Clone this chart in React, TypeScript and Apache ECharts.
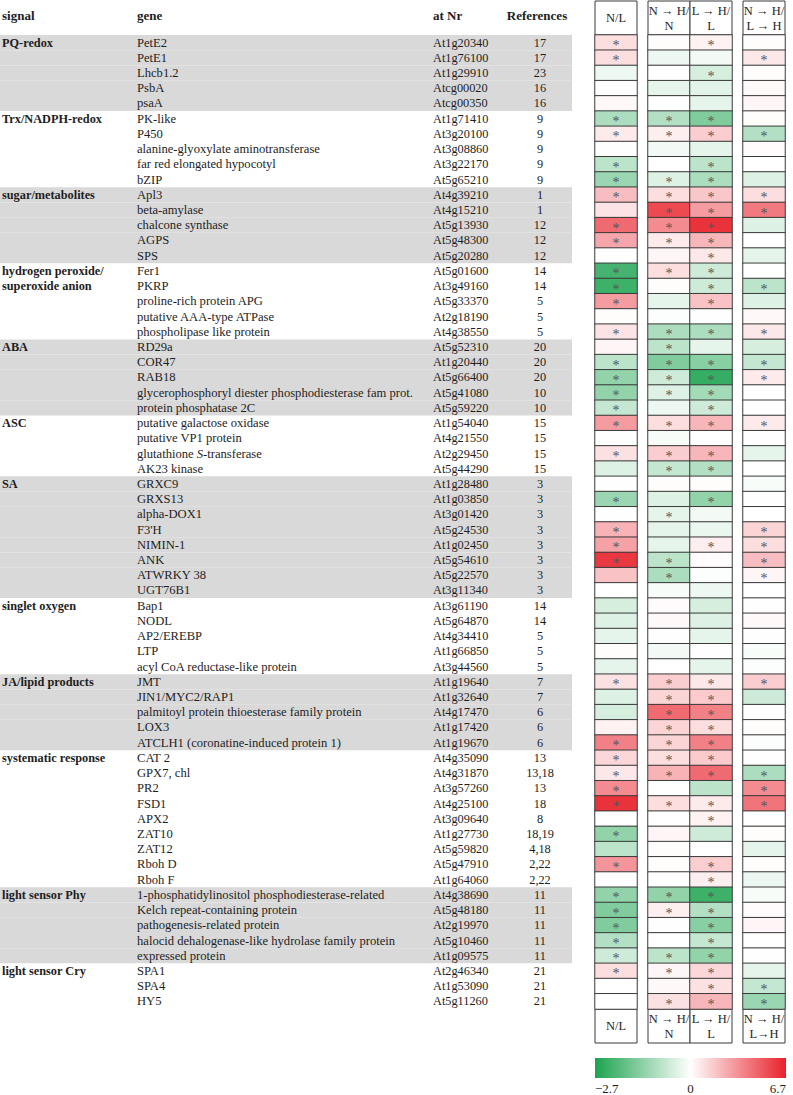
import React, { useEffect, useRef } from 'react';
import * as echarts from 'echarts';

// ---------------- data ----------------
const signalGroups = [
  'PQ-redox',
  'Trx/NADPH-redox',
  'sugar/metabolites',
  'hydrogen peroxide/\nsuperoxide anion',
  'ABA',
  'ASC',
  'SA',
  'singlet oxygen',
  'JA/lipid products',
  'systematic response',
  'light sensor Phy',
  'light sensor Cry',
];
const groupSizes = [5, 5, 5, 5, 5, 4, 8, 5, 5, 9, 5, 3];

const genes = [
  'PetE2', 'PetE1', 'Lhcb1.2', 'PsbA', 'psaA',
  'PK-like', 'P450', 'alanine-glyoxylate aminotransferase', 'far red elongated hypocotyl', 'bZIP',
  'Apl3', 'beta-amylase', 'chalcone synthase', 'AGPS', 'SPS',
  'Fer1', 'PKRP', 'proline-rich protein APG', 'putative AAA-type ATPase', 'phospholipase like protein',
  'RD29a', 'COR47', 'RAB18', 'glycerophosphoryl diester phosphodiesterase fam prot.', 'protein phosphatase 2C',
  'putative galactose oxidase', 'putative VP1 protein', 'glutathione {i|S}-transferase', 'AK23 kinase',
  'GRXC9', 'GRXS13', 'alpha-DOX1', "F3'H", 'NIMIN-1', 'ANK', 'ATWRKY 38', 'UGT76B1',
  'Bap1', 'NODL', 'AP2/EREBP', 'LTP', 'acyl CoA reductase-like protein',
  'JMT', 'JIN1/MYC2/RAP1', 'palmitoyl protein thioesterase family protein', 'LOX3', 'ATCLH1 (coronatine-induced protein 1)',
  'CAT 2', 'GPX7, chl', 'PR2', 'FSD1', 'APX2', 'ZAT10', 'ZAT12', 'Rboh D', 'Rboh F',
  '1-phosphatidylinositol phosphodiesterase-related', 'Kelch repeat-containing protein', 'pathogenesis-related protein',
  'halocid dehalogenase-like hydrolase family protein', 'expressed protein',
  'SPA1', 'SPA4', 'HY5',
];

const atNr = [
  'At1g20340', 'At1g76100', 'At1g29910', 'Atcg00020', 'Atcg00350',
  'At1g71410', 'At3g20100', 'At3g08860', 'At3g22170', 'At5g65210',
  'At4g39210', 'At4g15210', 'At5g13930', 'At5g48300', 'At5g20280',
  'At5g01600', 'At3g49160', 'At5g33370', 'At2g18190', 'At4g38550',
  'At5g52310', 'At1g20440', 'At5g66400', 'At5g41080', 'At5g59220',
  'At1g54040', 'At4g21550', 'At2g29450', 'At5g44290',
  'At1g28480', 'At1g03850', 'At3g01420', 'At5g24530', 'At1g02450', 'At5g54610', 'At5g22570', 'At3g11340',
  'At3g61190', 'At5g64870', 'At4g34410', 'At1g66850', 'At3g44560',
  'At1g19640', 'At1g32640', 'At4g17470', 'At1g17420', 'At1g19670',
  'At4g35090', 'At4g31870', 'At3g57260', 'At4g25100', 'At3g09640', 'At1g27730', 'At5g59820', 'At5g47910', 'At1g64060',
  'At4g38690', 'At5g48180', 'At2g19970', 'At5g10460', 'At1g09575',
  'At2g46340', 'At1g53090', 'At5g11260',
];

const references = [
  '17', '17', '23', '16', '16',
  '9', '9', '9', '9', '9',
  '1', '1', '12', '12', '12',
  '14', '14', '5', '5', '5',
  '20', '20', '20', '10', '10',
  '15', '15', '15', '15',
  '3', '3', '3', '3', '3', '3', '3', '3',
  '14', '14', '5', '5', '5',
  '7', '7', '6', '6', '6',
  '13', '13,18', '13', '18', '8', '18,19', '4,18', '2,22', '2,22',
  '11', '11', '11', '11', '11',
  '21', '21', '21',
];

const valNL = [
  1.0, 1.0, -0.2, 0.05, 0.2,
  -1.0, 0.6, 0.05, -0.8, -1.2,
  2.0, 0.8, 4.5, 2.7, 0.0,
  -2.2, -2.3, 3.0, 0.1, 0.8,
  0.3, -0.8, -1.3, -1.3, -0.7,
  3.0, 0.05, 0.9, -0.4,
  0.05, -1.2, 0.05, 2.3, 2.8, 6.0, 1.8, 0.0,
  -0.5, -0.4, -0.3, 0.1, -0.3,
  0.9, -0.4, -0.5, 0.4, 3.8,
  1.2, 0.7, 3.5, 6.2, 0.0, -1.3, -0.8, 3.2, 0.05,
  -1.3, -1.5, -1.5, -0.9, -0.6,
  1.0, 0.0, 0.0,
];
const valNHN = [
  0.1, -0.2, 0.0, -0.3, 0.0,
  -0.9, 0.5, -0.15, 0.0, -0.4,
  1.0, 5.5, 3.5, 0.6, 0.3,
  1.0, 0.1, -0.3, -0.05, -1.0,
  -0.8, -1.5, -0.6, -0.4, -0.2,
  1.0, -0.1, 1.5, -0.7,
  0.1, -0.4, -0.3, -0.3, -0.3, -0.8, -1.0, -0.1,
  0.15, 0.2, 0.05, -0.15, 0.0,
  1.5, 1.3, 4.5, 1.3, 1.3,
  1.0, 2.3, 0.0, 1.0, 0.0, 0.3, 0.1, 0.1, 0.0,
  -1.3, 0.5, 0.05, 0.0, -0.8,
  0.3, 0.2, 0.9,
];
const valLHL = [
  0.4, -0.15, -0.5, -0.35, -0.3,
  -1.5, 1.5, -0.3, -0.8, -1.0,
  1.7, 3.0, 6.2, 2.2, 0.7,
  -0.6, -0.6, 1.8, 0.05, -1.0,
  -0.3, -1.4, -2.4, -1.1, -0.6,
  2.2, 0.0, 2.2, -0.9,
  0.1, -1.3, -0.15, -0.25, 0.5, 0.15, -0.05, -0.2,
  -0.5, -0.4, -0.3, 0.05, -0.3,
  0.7, 1.6, 3.8, 1.0, 3.8,
  1.6, 4.5, -0.8, 0.6, 0.4, -0.6, 0.0, 1.5, 0.5,
  -2.3, -0.9, -1.4, -0.7, -1.3,
  1.2, 0.9, 2.2,
];
const valNHLH = [
  0.1, 0.7, 0.1, 0.2, 0.3,
  0.1, -0.9, 0.15, 0.0, -0.4,
  1.0, 4.0, -0.4, 0.05, -0.3,
  0.0, -0.8, -0.4, 0.2, 0.7,
  -0.5, -0.7, 0.6, 0.0, 0.0,
  0.6, 0.05, -0.3, 0.0,
  -0.1, 0.05, 0.0, 1.3, 1.0, 2.0, 0.3, 0.0,
  0.05, 0.2, 0.05, -0.1, -0.05,
  1.5, -0.6, 0.05, 0.1, -0.05,
  0.05, -1.0, 3.5, 4.2, 0.0, 0.1, -0.3, 0.1, -0.2,
  -0.1, 0.15, 0.3, 0.0, 0.05,
  -0.3, -0.7, -1.2,
];

// significance flags (1 = asterisk)
const sigNL = [
  1, 1, 0, 0, 0,
  1, 1, 0, 1, 1,
  1, 0, 1, 1, 0,
  1, 1, 1, 0, 1,
  0, 1, 1, 1, 1,
  1, 0, 1, 0,
  0, 1, 0, 1, 1, 1, 0, 0,
  0, 0, 0, 0, 0,
  1, 0, 0, 0, 1,
  1, 1, 1, 1, 0, 1, 0, 1, 0,
  1, 1, 1, 1, 1,
  1, 0, 0,
];
const sigNHN = [
  0, 0, 0, 0, 0,
  1, 1, 0, 0, 1,
  1, 1, 1, 1, 0,
  1, 0, 0, 0, 1,
  1, 1, 1, 1, 0,
  1, 0, 1, 1,
  0, 0, 1, 0, 0, 1, 1, 0,
  0, 0, 0, 0, 0,
  1, 1, 1, 1, 1,
  1, 1, 0, 1, 0, 0, 0, 0, 0,
  1, 1, 0, 0, 1,
  1, 0, 1,
];
const sigLHL = [
  1, 0, 1, 0, 0,
  1, 1, 0, 1, 1,
  1, 1, 1, 1, 1,
  1, 1, 1, 0, 1,
  0, 1, 1, 1, 1,
  1, 0, 1, 1,
  0, 1, 0, 0, 1, 0, 0, 0,
  0, 0, 0, 0, 0,
  1, 1, 1, 1, 1,
  1, 1, 0, 1, 1, 0, 0, 1, 1,
  1, 1, 1, 1, 1,
  1, 1, 1,
];
const sigNHLH = [
  0, 1, 0, 0, 0,
  0, 1, 0, 0, 0,
  1, 1, 0, 0, 0,
  0, 1, 0, 0, 1,
  0, 1, 1, 0, 0,
  1, 0, 0, 0,
  0, 0, 0, 1, 1, 1, 1, 0,
  0, 0, 0, 0, 0,
  1, 0, 0, 0, 0,
  0, 1, 1, 1, 0, 0, 0, 0, 0,
  0, 0, 0, 0, 0,
  0, 1, 1,
];

const tableHeaders = ['signal', 'gene', 'at Nr', 'References'];
const columnLabelsTop = ['N/L', 'N → H/\nN', 'L → H/\nL', 'N → H/\nL → H'];
const columnLabelsBottom = ['N/L', 'N → H/\nN', 'L → H/\nL', 'N → H/\nL→H'];
const scaleMin = -2.7;
const scaleMax = 6.7;
const scaleTickLabels = ['−2.7', '0', '6.7'];

// ---------------- styling ----------------
const FONT = "'Liberation Serif', 'Times New Roman', Times, serif";
const GREEN = [28, 163, 79];
const RED = [232, 33, 43];
const WHITE = [255, 255, 255];
const TEXT = '#1e1e1e';
const BORDER = '#3a3a3a';
const STAR = '#555555';

function mix(a: number[], b: number[], t: number) {
  const c = a.map((v, i) => Math.round(v + (b[i] - v) * t));
  return `rgb(${c[0]},${c[1]},${c[2]})`;
}
function divergingColor(v: number) {
  if (v < 0) return mix(WHITE, GREEN, Math.min(1, -v / -scaleMin));
  return mix(WHITE, RED, Math.min(1, v / scaleMax));
}

export default function App() {
  const ref = useRef<HTMLDivElement>(null);

  useEffect(() => {
    if (!ref.current) return;
    const chart = echarts.init(ref.current, null, { renderer: 'svg' });

    const n = genes.length;
    const rowIds = genes.map((_, i) => String(i));

    // signal label per row and gray band flags
    const signalRow: string[] = new Array(n).fill('');
    const grayFlags: number[] = new Array(n).fill(0);
    let r = 0;
    signalGroups.forEach((name, gi) => {
      const lines = name.split('\n');
      lines.forEach((ln, k) => {
        signalRow[r + k] = ln;
      });
      for (let k = 0; k < groupSizes[gi]; k++) grayFlags[r + k] = gi % 2 === 0 ? 1 : 0;
      r += groupSizes[gi];
    });

    // visual map colour stops (piecewise linear, white at 0)
    const stops: string[] = [];
    const nStops = Math.round((scaleMax - scaleMin) * 10);
    for (let i = 0; i <= nStops; i++) {
      const v = scaleMin + ((scaleMax - scaleMin) * i) / nStops;
      stops.push(divergingColor(v));
    }

    const top = 35;
    const height = 974;
    const bottomOffset = 1095 - top - height;

    const labelBase = {
      interval: 0,
      fontFamily: FONT,
      color: TEXT,
    };

    const tableY = (formatter: (v: any, i: number) => string, opts: any) => ({
      type: 'category',
      gridIndex: 0,
      data: rowIds,
      inverse: true,
      position: 'left',
      z: 10,
      axisLine: { show: false },
      axisTick: { show: false },
      splitLine: { show: false },
      axisLabel: { ...labelBase, formatter, ...opts },
    });

    const cols = [
      { vals: valNL, sig: sigNL, xAxis: 1, yAxis: 4, x: 0 },
      { vals: valNHN, sig: sigNHN, xAxis: 2, yAxis: 5, x: 0 },
      { vals: valLHL, sig: sigLHL, xAxis: 2, yAxis: 5, x: 1 },
      { vals: valNHLH, sig: sigNHLH, xAxis: 3, yAxis: 6, x: 0 },
    ];

    const starLabel = {
      formatter: '*',
      color: STAR,
      fontFamily: FONT,
      fontSize: 14,
      offset: [0, 3],
    };

    const heatSeries = cols.map((c) => ({
      type: 'heatmap',
      xAxisIndex: c.xAxis,
      yAxisIndex: c.yAxis,
      data: c.vals.map((v, i) => ({
        value: [c.x, i, v],
        label: { ...starLabel, show: c.sig[i] === 1 },
      })),
      itemStyle: { borderColor: BORDER, borderWidth: 1 },
      label: { ...starLabel, show: false },
      emphasis: { disabled: true },
    }));

    // box geometry of the heatmap columns
    const boxX = [595, 648, 690, 743];
    const boxW = 42;
    const graphics: any[] = [];
    boxX.forEach((x, i) => {
      graphics.push({
        type: 'rect',
        shape: { x, y: 1, width: boxW, height: top - 1 },
        style: { fill: '#fff', stroke: BORDER, lineWidth: 1 },
      });
      graphics.push({
        type: 'text',
        style: {
          text: columnLabelsTop[i],
          x: x + boxW / 2,
          y: 1 + (top - 1) / 2,
          align: 'center',
          verticalAlign: 'middle',
          fontFamily: FONT,
          fontSize: 12.5,
          lineHeight: 15,
          fill: TEXT,
        },
      });
      graphics.push({
        type: 'rect',
        shape: { x, y: top + height, width: boxW, height: 34 },
        style: { fill: '#fff', stroke: BORDER, lineWidth: 1 },
      });
      graphics.push({
        type: 'text',
        style: {
          text: columnLabelsBottom[i],
          x: x + boxW / 2,
          y: top + height + 17,
          align: 'center',
          verticalAlign: 'middle',
          fontFamily: FONT,
          fontSize: 12.5,
          lineHeight: 15,
          fill: TEXT,
        },
      });
    });

    // table headers
    const headerX = [2, 137, 433, 537];
    tableHeaders.forEach((h, i) => {
      graphics.push({
        type: 'text',
        style: {
          text: h,
          x: headerX[i],
          y: 15,
          align: i === 3 ? 'center' : 'left',
          verticalAlign: 'middle',
          fontFamily: FONT,
          fontSize: 13,
          fontWeight: 'bold',
          fill: TEXT,
        },
      });
    });

    // colour bar
    const cbX = 595;
    const cbW = 191;
    graphics.push({
      type: 'rect',
      shape: { x: cbX, y: 1058, width: cbW, height: 20 },
      style: {
        fill: new echarts.graphic.LinearGradient(0, 0, 1, 0, [
          { offset: 0, color: divergingColor(scaleMin) },
          { offset: 0.5, color: '#ffffff' },
          { offset: 1, color: divergingColor(scaleMax) },
        ]),
      },
    });
    const cbLabelX = [cbX, cbX + cbW / 2, cbX + cbW];
    const cbAlign = ['left', 'center', 'right'];
    scaleTickLabels.forEach((t, i) => {
      graphics.push({
        type: 'text',
        style: {
          text: t,
          x: cbLabelX[i],
          y: 1088,
          align: cbAlign[i],
          verticalAlign: 'middle',
          fontFamily: FONT,
          fontSize: 13,
          fill: TEXT,
        },
      });
    });

    const option: any = {
      animation: false,
      backgroundColor: '#ffffff',
      grid: [
        { left: 0, top, width: 572, bottom: bottomOffset, outerBoundsMode: 'none' },
        { left: 595, top, width: 42, bottom: bottomOffset, outerBoundsMode: 'none' },
        { left: 648, top, width: 84, bottom: bottomOffset, outerBoundsMode: 'none' },
        { left: 743, top, width: 42, bottom: bottomOffset, outerBoundsMode: 'none' },
      ],
      xAxis: [
        { type: 'value', gridIndex: 0, min: 0, max: 1, show: false },
        { type: 'category', gridIndex: 1, data: ['N/L'], show: false },
        { type: 'category', gridIndex: 2, data: ['N→H/N', 'L→H/L'], show: false },
        { type: 'category', gridIndex: 3, data: ['N→H/L→H'], show: false },
      ],
      yAxis: [
        tableY((_v, i) => signalRow[i], {
          align: 'left',
          margin: -2,
          fontSize: 12.3,
          fontWeight: 'bold',
        }),
        tableY((_v, i) => genes[i], {
          align: 'left',
          margin: -137,
          fontSize: 12.6,
          rich: {
            i: { fontStyle: 'italic', fontFamily: FONT, fontSize: 12.6, color: TEXT },
          },
        }),
        tableY((_v, i) => atNr[i], { align: 'left', margin: -433, fontSize: 12.3 }),
        tableY((_v, i) => references[i], { align: 'center', margin: -540, fontSize: 12.3 }),
        { type: 'category', gridIndex: 1, data: rowIds, inverse: true, show: false },
        { type: 'category', gridIndex: 2, data: rowIds, inverse: true, show: false },
        { type: 'category', gridIndex: 3, data: rowIds, inverse: true, show: false },
      ],
      visualMap: {
        type: 'continuous',
        show: false,
        min: scaleMin,
        max: scaleMax,
        dimension: 2,
        seriesIndex: [1, 2, 3, 4],
        inRange: { color: stops },
      },
      series: [
        {
          type: 'bar',
          xAxisIndex: 0,
          yAxisIndex: 0,
          data: grayFlags,
          barWidth: '100%',
          barCategoryGap: '0%',
          itemStyle: { color: '#d9d9d9' },
          silent: true,
          z: 0,
        },
        ...heatSeries,
      ],
      graphic: graphics,
    };

    chart.setOption(option);
    return () => chart.dispose();
  }, []);

  return (
    <div
      ref={ref}
      style={{ position: 'fixed', left: 0, top: 0, width: 793, height: 1095, background: '#fff' }}
    />
  );
}
